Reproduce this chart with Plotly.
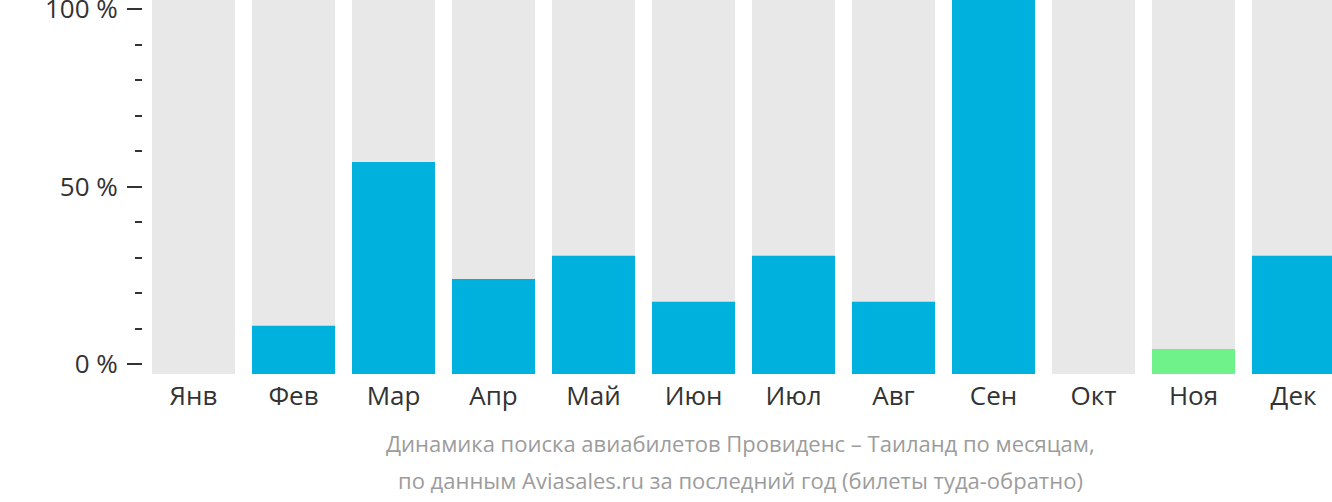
import plotly.graph_objects as go

months = ["Янв", "Фев", "Мар", "Апр", "Май", "Июн", "Июл", "Авг", "Сен", "Окт", "Ноя", "Дек"]
values = [0, 12.9, 56.7, 25.4, 31.6, 19.3, 31.6, 19.3, 100, 0, 6.7, 31.6]
bar_colors = ["#00b0dd"] * 12
bar_colors[10] = "#6ff289"
background = [100] * 12
y_tick_vals = [0, 50, 100]
y_tick_text = ["0 %", "50 %", "100 %"]
title_lines = [
    "Динамика поиска авиабилетов Провиденс – Таиланд по месяцам,",
    "по данным Aviasales.ru за последний год (билеты туда-обратно)",
]

W, H = 1332, 502
ML, MT, MB = 143, 0, 128
plot_h = H - MT - MB  # 374

x = list(range(len(months)))

fig = go.Figure()
fig.add_trace(go.Bar(x=x, y=background, marker=dict(color="#e8e8e8", line=dict(width=0)),
                     width=0.83, yaxis="y2", hoverinfo="skip", showlegend=False))
fig.add_trace(go.Bar(x=x, y=values, marker=dict(color=bar_colors, line=dict(width=0)),
                     width=0.83, yaxis="y2", showlegend=False))
# invisible trace to anchor the tick axis
fig.add_trace(go.Scatter(x=[0], y=[0], mode="markers", marker=dict(opacity=0),
                         yaxis="y", hoverinfo="skip", showlegend=False))

plot_w = W - ML
fig.update_layout(
    width=W, height=H,
    margin=dict(l=ML, r=0, t=MT, b=MB, pad=0, autoexpand=False),
    paper_bgcolor="white", plot_bgcolor="white",
    barmode="overlay",
    font=dict(family="Open Sans", color="#333333"),
    xaxis=dict(
        range=[-0.505, -0.505 + plot_w / 100.0],
        tickvals=x, ticktext=months, showgrid=False, zeroline=False,
        showline=False, ticks="", tickfont=dict(size=26, color="#333333"),
        ticklabelstandoff=14, ticklabeloverflow="allow", automargin=False,
    ),
    yaxis=dict(
        domain=[10 / plot_h, 366 / plot_h],
        range=[0, 100.3], tickvals=y_tick_vals, ticktext=y_tick_text,
        ticks="outside", ticklen=15, tickwidth=2, tickcolor="#333333",
        minor=dict(dtick=10, ticks="outside", ticklen=7, tickwidth=2, tickcolor="#333333", showgrid=False),
        showgrid=False, zeroline=False, showline=False,
        tickfont=dict(size=26, color="#333333"), ticklabelstandoff=4,
        ticklabeloverflow="allow", automargin=False,
    ),
    yaxis2=dict(
        domain=[0, 1], range=[0, 100], anchor="x", showgrid=False, zeroline=False,
        showticklabels=False, ticks="", showline=False, automargin=False,
    ),
)

for i, line in enumerate(title_lines):
    fig.add_annotation(text=line, xref="paper", yref="paper", x=(741 - ML) / plot_w,
                       y=(plot_h - [443, 480][i]) / plot_h,
                       xanchor="center", yanchor="middle", showarrow=False,
                       font=dict(size=22, color="#9c9c9c", family="Open Sans"))

fig.write_html("out.html")
